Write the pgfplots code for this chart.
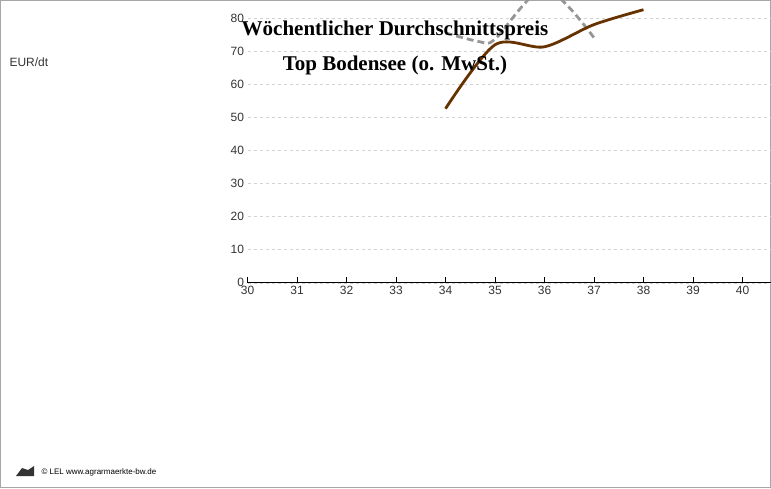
\documentclass[border=0pt]{standalone}
\usepackage{pgfplots}
\pgfplotsset{compat=1.18}
\usepackage{fontspec}
\setmainfont{Liberation Sans}
\newfontfamily\titlefont{Liberation Serif}
\definecolor{c24}{RGB}{150,150,150}
\definecolor{c25}{RGB}{102,51,0}
\definecolor{c26}{RGB}{40,150,170}
\begin{document}
\begin{tikzpicture}[x=1pt,y=1pt]
\path[use as bounding box] (0,0) rectangle (771,488);
\draw[gray!70,line width=0.8pt] (0.5,0.5) rectangle (770.5,487.5);
\begin{axis}[at={(50,62)},anchor=origin,scale only axis,width=693pt,height=331pt,
  xmin=30,xmax=44,ymin=0,ymax=100,xtick={30,...,44},ytick={0,10,...,100},
  axis lines*=left, x axis line style={black,line width=0.8pt,-},
  y axis line style={draw=none},
  ymajorgrids, grid style={dashed,gray!35},
  xtick style={black}, ytick style={draw=none}, major tick length=6pt,
  ticklabel style={font=\fontsize{12}{14}\selectfont,text=black!80},
  /pgf/number format/assume math mode=true,
  clip=false,
  legend style={at={(rel axis cs:0.762,0.40)},anchor=north west,draw=none,fill=none,
    font=\fontsize{12}{14}\selectfont,row sep=6pt},
  legend cell align=left,
  legend image code/.code={\draw[#1] (0pt,0pt) -- (55pt,0pt);},
]
\addplot[c24,line width=2.8pt,dash pattern=on 7pt off 4pt,smooth,tension=0.5] coordinates {(34,75.5)(34.7,72.8)(35,73.6)(36,88.8)(37,74)};
\addplot[c25,line width=2.8pt,smooth,tension=0.5] coordinates {(34,52.6)(35,71.9)(36,71.3)(37,78)(38,82.5)};
\addlegendimage{c26,line width=2.8pt}
\legend{2024,2025,2026}
\end{axis}
\node[font=\titlefont\bfseries\fontsize{21}{24}\selectfont] at (395,458) {Wöchentlicher Durchschnittspreis};
\node[font=\titlefont\bfseries\fontsize{21}{24}\selectfont] at (395,423) {Top Bodensee (o. MwSt.)};
\node[anchor=west,font=\fontsize{12}{14}\selectfont,text=black!80] at (6,426) {EUR/dt};
\node[anchor=west,font=\fontsize{8}{10}\selectfont] at (38,16) {© LEL www.agrarmaerkte-bw.de};
\fill[black!80] (16,12) -- (22,20) -- (28,18) -- (34,22) -- (34,12) -- cycle;
\end{tikzpicture}
\end{document}
